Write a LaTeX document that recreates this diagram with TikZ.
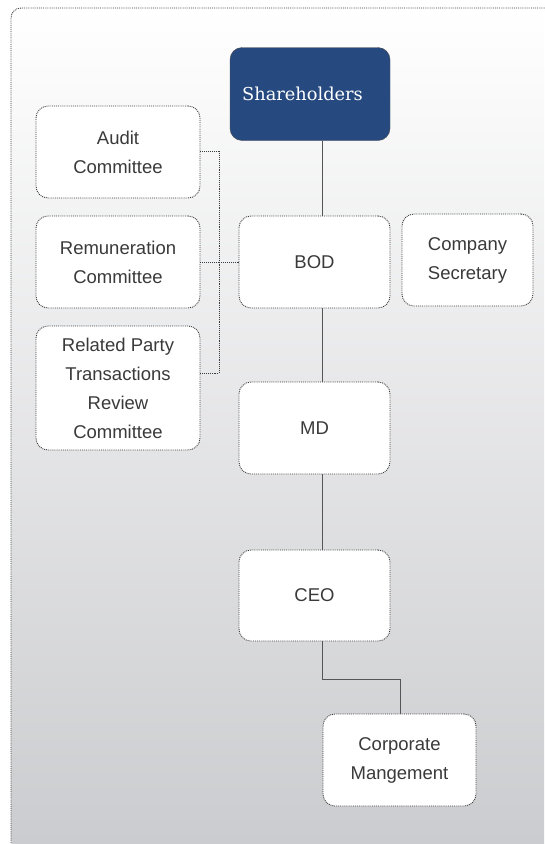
\documentclass[tikz,border=0pt]{standalone}
\usepackage{fontspec}
\setmainfont{Liberation Sans}
\newfontfamily\shfont{DejaVu Serif}
\definecolor{navy}{HTML}{264A80}
\definecolor{txt}{HTML}{3A3A3A}
\definecolor{bord}{HTML}{3C3C3C}
\definecolor{panelbot}{HTML}{CBCCCF}
\definecolor{linec}{HTML}{555555}
\begin{document}
\begin{tikzpicture}[x=1pt,y=-1pt,
  box/.style={draw=bord, densely dotted, line width=0.9pt, fill=white, rounded corners=12pt, minimum width=#1, align=center, text=txt, font=\fontsize{18.5}{29}\selectfont, inner sep=0pt},
  box/.default=151pt,
  solidline/.style={draw=linec, line width=1pt},
  dotline/.style={draw=bord, densely dotted, line width=0.9pt}]
\useasboundingbox (0,0) rectangle (544,844);
\begin{scope}
\clip[rounded corners=10pt] (11,850) -- (11,8) -- (560,8) -- (560,850) -- cycle;
\shade[top color=white, bottom color=panelbot] (11,8) rectangle (544,844);
\end{scope}
\draw[dotline, rounded corners=10pt] (11,845) -- (11,8) -- (546,8);
% nodes
\node[box=164pt, minimum height=92pt] (audit) at (118,152) {Audit\\Committee};
\node[box=164pt, minimum height=92pt] (rem) at (118,262) {Remuneration\\Committee};
\node[box=164pt, minimum height=124pt] (rpt) at (118,388) {Related Party\\Transactions\\Review\\Committee};
\node[draw=black!70, fill=navy, rounded corners=12pt, minimum width=160pt, minimum height=93pt, text=white, font=\shfont\fontsize{17.8}{20}\selectfont, inner sep=0pt] (sh) at (310,94) {\hspace*{-15pt}Shareholders};
\node[box, minimum height=92pt] (bod) at (314.5,262) {BOD};
\node[box=131pt, minimum height=92pt] (cs) at (467.5,260) {Company\\Secretary};
\node[box, minimum height=92pt] (md) at (314.5,428) {MD};
\node[box, minimum height=91pt] (ceo) at (314.5,595.5) {CEO};
\node[box=153pt, minimum height=92pt] (cm) at (399.5,760) {Corporate\\Mangement};
% connectors
\coordinate (shb) at (322,140);
\draw[solidline] (sh.south -| shb) -- (bod.north -| shb);
\draw[solidline] (bod.south -| shb) -- (md.north -| shb);
\draw[solidline] (md.south -| shb) -- (ceo.north -| shb);
\draw[solidline] (ceo.south -| shb) |- (400,679) -- (cm.north -| 400,0);
\draw[dotline] (audit.east |- 0,151) -| (219,373) -- (rpt.east |- 0,373);
\draw[dotline] (rem.east) -- (bod.west);
\end{tikzpicture}
\end{document}
